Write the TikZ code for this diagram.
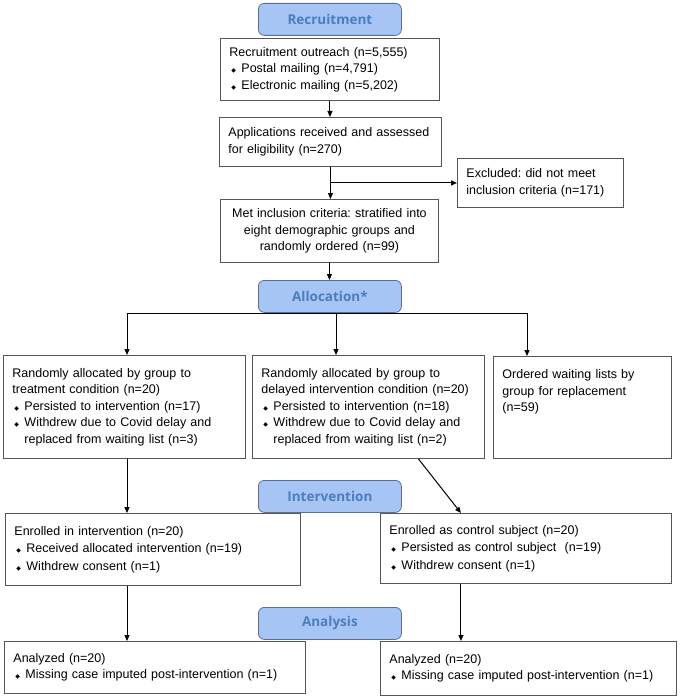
\documentclass[tikz,border=0pt]{standalone}
\usepackage{fontspec}
\setmainfont{Liberation Sans}
\newfontfamily\headfont{Open Sans}
\newfontfamily\symfont{DejaVu Sans}
\usetikzlibrary{arrows.meta}
\definecolor{hdfill}{HTML}{A6C4F4}
\definecolor{hdline}{HTML}{5B6E96}
\definecolor{hdtext}{HTML}{4A7EBE}
\definecolor{boxline}{HTML}{555555}
\frenchspacing
\newcommand{\bul}{\makebox[12pt][l]{\hspace{2pt}\symfont\fontsize{6}{6}\selectfont ◆}}
\newcommand{\ind}{\hspace*{12pt}}
\begin{document}
\begin{tikzpicture}[x=1pt,y=-1pt,
    box/.style={draw=boxline, line width=0.9pt, anchor=north west, align=left,
      inner xsep=9pt, inner ysep=3pt, font=\fontsize{12.5}{16.5}\selectfont},
    head/.style={draw=hdline, fill=hdfill, rounded corners=6pt, line width=0.8pt,
      anchor=north west, minimum width=143pt, minimum height=32pt, inner sep=0pt,
      text=hdtext, font=\headfont\bfseries\fontsize{13.5}{16}\selectfont},
    arr/.style={-{Triangle[length=6pt,width=5pt]}, line width=1pt}]
  \useasboundingbox (0,0) rectangle (680,698);
  \node[head] (recr) at (258,3) {Recruitment};
  \node[head] (alloc) at (258,280) {Allocation*};
  \node[head] (interv) at (258,480) {Intervention};
  \node[head] (anal) at (258,607) {Analysis};
  \node[box, text width=201pt, minimum height=62pt] (outreach) at (220,38)
    {Recruitment outreach (n=5,555)\\ \bul Postal mailing (n=4,791)\\ \bul Electronic mailing (n=5,202)};
  \node[box, text width=204pt, minimum height=49pt] (applic) at (219,117)
    {Applications received and assessed\\ for eligibility (n=270)};
  \node[box, text width=148pt, minimum height=49pt] (excl) at (457,158)
    {Excluded: did not meet\\ inclusion criteria (n=171)};
  \node[box, text width=200pt, minimum height=63pt, align=center] (met) at (220,199)
    {Met inclusion criteria: stratified into\\ eight demographic groups and\\ randomly ordered (n=99)};
  \node[box, text width=224pt, minimum height=103pt] (treat) at (3,355)
    {Randomly allocated by group to\\ treatment condition (n=20)\\ \bul Persisted to intervention (n=17)\\
     \bul Withdrew due to Covid delay and\\ \ind replaced from waiting list (n=3)};
  \node[box, text width=214pt, minimum height=103pt] (delay) at (252,355)
    {Randomly allocated by group to\\ delayed intervention condition (n=20)\\ \bul Persisted to intervention (n=18)\\
     \bul Withdrew due to Covid delay and\\ \ind replaced from waiting list (n=2)};
  \node[box, text width=160pt, minimum height=102pt] (wait) at (493,356)
    {Ordered waiting lists by\\ group for replacement\\ (n=59)\\ ~\\ ~};
  \node[box, text width=277pt, minimum height=72pt] (enrolI) at (5,513)
    {Enrolled in intervention (n=20)\\[1pt] \bul Received allocated intervention (n=19)\\[1pt] \bul Withdrew consent (n=1)};
  \node[box, text width=273pt, minimum height=70pt] (enrolC) at (380,513)
    {Enrolled as control subject (n=20)\\[1pt] \bul Persisted as control subject~ (n=19)\\[1pt] \bul Withdrew consent (n=1)};
  \node[box, text width=283pt, minimum height=52pt] (anaI) at (4,641)
    {Analyzed (n=20)\\ \bul Missing case imputed post-intervention (n=1)};
  \node[box, text width=278pt, minimum height=54pt] (anaC) at (380,641)
    {Analyzed (n=20)\\ \bul Missing case imputed post-intervention (n=1)};
  \coordinate (jl) at (127,313);
  \coordinate (jm) at (336,313);
  \coordinate (jr) at (527,313);
  \draw[arr] (outreach.south) -- (outreach.south |- applic.north);
  \draw[arr] (applic.south) -- (applic.south |- met.north);
  \draw[arr] (applic.south |- excl.west) -- (excl.west);
  \draw[arr] (met.south) -- (met.south |- alloc.north);
  \draw[line width=1pt] (jl) -- (jr);
  \draw[arr] (jl) -- (jl |- treat.north);
  \draw[arr] (jm) -- (jm |- delay.north);
  \draw[arr] (jr) -- (jr |- wait.north);
  \draw[arr] (jl |- treat.south) -- (jl |- enrolI.north);
  \draw[arr] ([xshift=50pt]delay.south) -- ([xshift=-65pt]enrolC.north);
  \draw[arr] (jl |- enrolI.south) -- (jl |- anaI.north);
  \draw[arr] ([xshift=-65pt]enrolC.south) -- ([xshift=-65pt]enrolC.south |- anaC.north);
\end{tikzpicture}
\end{document}
